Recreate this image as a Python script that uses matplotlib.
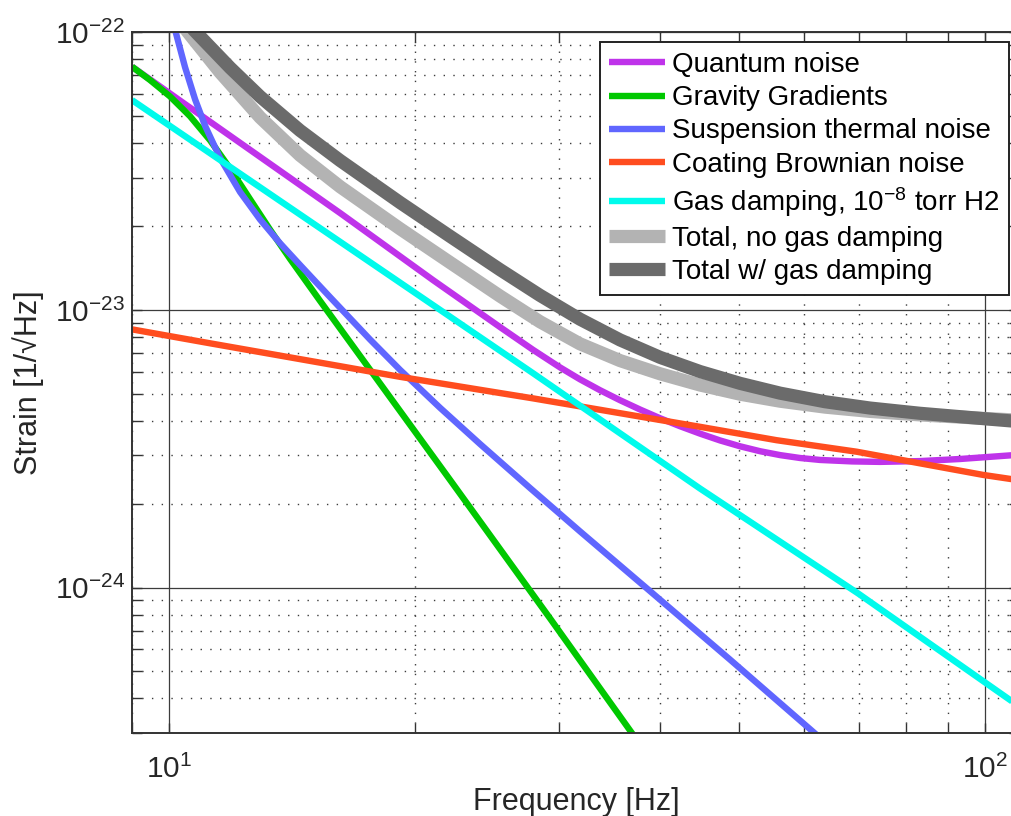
import matplotlib
matplotlib.use('Agg')
import matplotlib.pyplot as plt
import numpy as np
from matplotlib.ticker import LogLocator, NullFormatter

# Valores: frecuencia [Hz], strain [1/sqrt(Hz)]
quantum_f = [9.0, 10.905, 13.287, 16.194, 21.05, 25.43, 27.92, 30.13, 31.87, 33.73, 35.69,
             37.77, 39.96, 42.27, 44.74, 47.34, 50.10, 53.01, 56.09, 59.33, 62.77, 68.70,
             74.33, 83.25, 93.19, 110.0]
quantum_h = [7.52e-23, 5.05e-23, 3.36e-23, 2.235e-23, 1.282e-23, 8.686e-24, 7.19e-24, 6.215e-24,
             5.632e-24, 5.145e-24, 4.735e-24, 4.383e-24, 4.078e-24, 3.817e-24, 3.589e-24,
             3.392e-24, 3.231e-24, 3.102e-24, 3.004e-24, 2.933e-24, 2.886e-24, 2.851e-24,
             2.840e-24, 2.859e-24, 2.909e-24, 3.013e-24]

grav_f = [9.0, 9.47, 10.02, 10.602, 11.218, 11.87, 12.558, 13.288, 14.06, 15.302, 17.621,
          22.087, 29.29, 37.76]
grav_h = [7.52e-23, 6.731e-23, 5.874e-23, 4.985e-23, 4.085e-23, 3.233e-23, 2.507e-23, 1.947e-23,
          1.528e-23, 1.079e-23, 6.10e-24, 2.446e-24, 7.759e-25, 2.729e-25]

susp_f = [10.074, 10.182, 10.453, 10.752, 11.06, 11.539, 12.209, 12.918, 13.668, 14.462, 15.74,
          17.621, 19.179, 21.473, 24.04, 27.68, 31.87, 38.846, 48.676, 61.025, 62.772]
susp_h = [1.132e-22, 1.0e-22, 7.487e-23, 5.742e-23, 4.61e-23, 3.528e-23, 2.661e-23, 2.119e-23,
          1.74e-23, 1.453e-23, 1.113e-23, 7.834e-24, 6.091e-24, 4.446e-24, 3.293e-24, 2.287e-24,
          1.597e-24, 9.726e-25, 5.516e-25, 3.097e-25, 2.88e-25]

coat_f = [9.0, 11.22, 16.19, 19.17, 27.9, 44.7, 55.5, 69.6, 99.4, 110.0]
coat_h = [8.52e-24, 7.59e-24, 6.28e-24, 5.75e-24, 4.81e-24, 3.80e-24, 3.40e-24, 3.09e-24,
          2.55e-24, 2.44e-24]

gas_f = [9.0, 16.19, 27.95, 44.7, 69.9, 110.0]
gas_h = [5.70e-23, 1.762e-23, 5.91e-24, 2.28e-24, 9.54e-25, 3.75e-25]

total_f = [10.205, 10.542, 11.538, 12.918, 14.462, 16.194, 19.179, 22.087, 25.43, 28.477,
           31.87, 35.69, 39.96, 44.74, 50.10, 56.09, 63.66, 72.28, 83.25, 100.0, 110.0]
total_h = [1.132e-22, 1.0e-22, 7.178e-23, 4.941e-23, 3.606e-23, 2.78e-23, 1.962e-23, 1.483e-23,
           1.123e-23, 9.072e-24, 7.559e-24, 6.577e-24, 5.895e-24, 5.371e-24, 4.977e-24,
           4.696e-24, 4.472e-24, 4.316e-24, 4.192e-24, 4.07e-24, 4.013e-24]

total_gas_f = [10.365, 10.783, 11.87, 12.918, 14.462, 16.194, 19.179, 22.087, 25.43, 28.477,
               31.87, 35.69, 39.96, 44.74, 50.10, 56.09, 63.66, 72.28, 83.25, 100.0, 110.0]
total_gas_h = [1.132e-22, 1.0e-22, 7.457e-23, 5.871e-23, 4.43e-23, 3.454e-23, 2.438e-23,
               1.843e-23, 1.398e-23, 1.129e-23, 9.273e-24, 7.806e-24, 6.757e-24, 6.005e-24,
               5.445e-24, 5.02e-24, 4.677e-24, 4.438e-24, 4.249e-24, 4.06e-24, 3.967e-24]

etiquetas = ['Quantum noise', 'Gravity Gradients', 'Suspension thermal noise',
             'Coating Brownian noise', 'Gas damping, $10^{-8}$ torr H2',
             'Total, no gas damping', 'Total w/ gas damping']

plt.rcParams['font.family'] = ['Liberation Sans', 'DejaVu Sans']
plt.rcParams['mathtext.fontset'] = 'custom'
plt.rcParams['mathtext.rm'] = 'Liberation Sans'
plt.rcParams['mathtext.default'] = 'regular'

fig = plt.figure(figsize=(10.11, 8.16), dpi=100)
ax = fig.add_axes([0.1306, 0.1017, 0.8771, 0.8587])

curvas = [
    (quantum_f, quantum_h, '#bf33ea', 4.6),
    (grav_f, grav_h, '#00c800', 4.6),
    (susp_f, susp_h, '#6066ff', 4.6),
    (coat_f, coat_h, '#ff4d1f', 4.6),
    (gas_f, gas_h, '#00fbec', 4.6),
    (total_f, total_h, '#b3b3b3', 9.5),
    (total_gas_f, total_gas_h, '#6b6b6b', 9.5),
]
for (f, h, color, lw), etiqueta in zip(curvas, etiquetas):
    ax.loglog(f, h, color=color, linewidth=lw, solid_capstyle='butt',
              solid_joinstyle='round', label=etiqueta)

ax.set_xlim(9, 110)
ax.set_ylim(3e-25, 1e-22)

ax.set_xticks([10, 100])
ax.set_xticklabels([r'$10^{1}$', r'$10^{2}$'])
ax.set_yticks([1e-24, 1e-23, 1e-22])
ax.set_yticklabels([r'$10^{-24}$', r'$10^{-23}$', r'$10^{-22}$'])
ax.xaxis.set_minor_locator(LogLocator(base=10, subs=np.arange(2, 10), numticks=100))
ax.yaxis.set_minor_locator(LogLocator(base=10, subs=np.arange(2, 10), numticks=100))
ax.xaxis.set_minor_formatter(NullFormatter())
ax.yaxis.set_minor_formatter(NullFormatter())

# grid estilo MATLAB
ax.set_axisbelow(True)
ax.grid(which='major', color='#3c3c3c', linestyle='-', linewidth=0.9)
ax.grid(which='minor', color='#3c3c3c', linestyle=(0, (1, 6)), linewidth=1.0)

ax.tick_params(which='both', direction='in', top=True, right=True, length=7,
               width=1.0, color='#333333')
ax.tick_params(axis='both', which='major', labelsize=21.5, labelcolor='#262626')
ax.tick_params(axis='x', which='major', pad=16)
ax.tick_params(axis='y', which='major', pad=5)
for spine in ax.spines.values():
    spine.set_linewidth(1.4)
    spine.set_color('#333333')

fig.text(576.5 / 1011, 6 / 816, 'Frequency [Hz]', fontsize=22, color='#262626',
         ha='center', va='baseline')
fig.text(36.7 / 1011, (816 - 383) / 816, 'Strain [1/\u221aHz]', fontsize=22, color='#262626',
         rotation=90, ha='center', va='baseline', rotation_mode='anchor')

leg = ax.legend(loc='upper right', bbox_to_anchor=(1009.3 / 1011, 1 - 42.3 / 816),
                bbox_transform=fig.transFigure, fontsize=20, handlelength=2.0,
                handletextpad=0.25, borderpad=0.35, labelspacing=0.26,
                frameon=True, fancybox=False, framealpha=1, borderaxespad=0)
leg.get_frame().set_edgecolor('#222222')
leg.get_frame().set_linewidth(1.4)

fig.savefig('out.png', dpi=100)
